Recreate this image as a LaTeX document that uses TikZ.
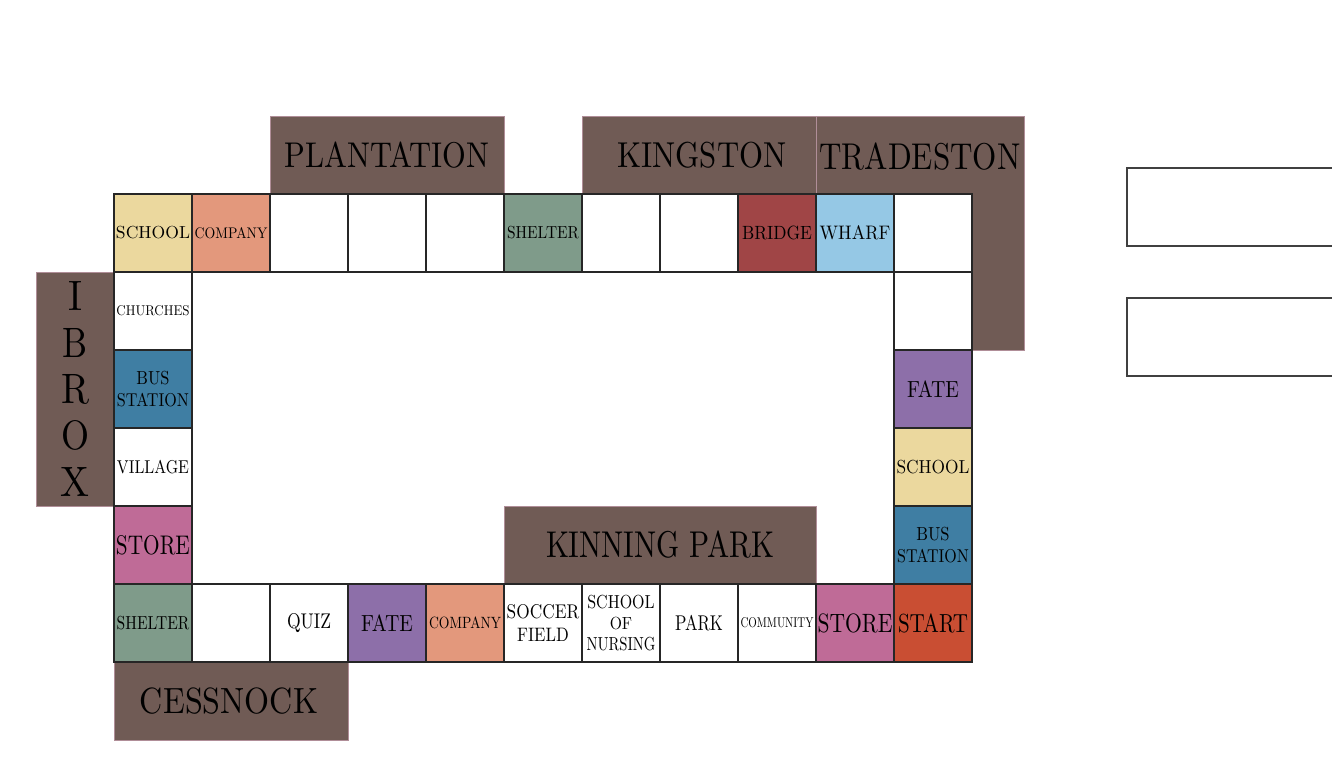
\documentclass[tikz,border=0pt]{standalone}
\usepackage{graphicx}
\definecolor{distf}{HTML}{705B55}
\definecolor{distb}{HTML}{B08E98}
\definecolor{cyellow}{HTML}{EBD89E}
\definecolor{ccompany}{HTML}{E3987C}
\definecolor{cshelter}{HTML}{7F9B8A}
\definecolor{cbridge}{HTML}{A04546}
\definecolor{cwharf}{HTML}{95C8E5}
\definecolor{cbus}{HTML}{3F7EA3}
\definecolor{cstore}{HTML}{BF6B97}
\definecolor{cfate}{HTML}{8D6FA9}
\definecolor{cstart}{HTML}{C94E33}
\newcommand\fitt[3]{\resizebox{#1pt}{#2pt}{#3}}
\newcommand\vlet[2]{\resizebox{#1pt}{29pt}{#2}}
\tikzset{
  cell/.style={draw=black!85, line width=1.3pt, minimum width=78pt, minimum height=78pt, inner sep=0pt, fill=white, align=center},
  district/.style={draw=distb, line width=1pt, fill=distf, inner sep=0pt},
  sidebox/.style={draw=black!75, line width=1.3pt},
  two/.style={font=\fontsize{10}{22.7}\selectfont},
  three/.style={font=\fontsize{10}{21.2}\selectfont}
}
\begin{document}
\begin{tikzpicture}[x=1pt,y=-1pt]
\useasboundingbox (0,0) rectangle (1332,772);
% district boxes
\node[district, minimum width=234pt, minimum height=78pt] (plantation) at (387,155) {\fitt{205}{25.6}{PLANTATION}};
\node[district, minimum width=234pt, minimum height=78pt] (kingston) at (699,155) {\hspace{6pt}\fitt{169}{25.4}{KINGSTON}};
\draw[district] (816,116) -- (1024,116) -- (1024,350) -- (972,350) -- (972,194) -- (816,194) -- cycle;
\node[inner sep=0pt] (tradestonlabel) at (920,157) {\fitt{201}{26.7}{TRADESTON}};
\node[district, minimum width=78pt, minimum height=234pt, align=center, font=\fontsize{10}{46.3}\selectfont] (ibrox) at (75,389)
  {\vlet{14}{I}\\\vlet{25}{B}\\\vlet{28}{R}\\\vlet{28}{O}\\\vlet{29}{X}};
\node[district, minimum width=312pt, minimum height=78pt] (kinning) at (660,545) {\fitt{228}{26.7}{KINNING PARK}};
\node[district, minimum width=234pt, minimum height=78pt] (cessnock) at (231,701) {\hspace{-4pt}\fitt{178}{25.7}{CESSNOCK}};
% top row
\node[cell, fill=cyellow] (t1) at (153,233) {\fitt{74}{12.3}{SCHOOL}};
\node[cell, fill=ccompany] (t2) at (231,233) {\fitt{72.7}{11}{COMPANY}};
\node[cell] (t3) at (309,233) {};
\node[cell] (t4) at (387,233) {};
\node[cell] (t5) at (465,233) {};
\node[cell, fill=cshelter] (t6) at (543,233) {\fitt{72}{12.3}{SHELTER}};
\node[cell] (t7) at (621,233) {};
\node[cell] (t8) at (699,233) {};
\node[cell, fill=cbridge] (t9) at (777,233) {\fitt{70}{13.5}{BRIDGE}};
\node[cell, fill=cwharf] (t10) at (855,233) {\fitt{70.6}{14}{WHARF}};
\node[cell] (t11) at (933,233) {};
% right column
\node[cell] (r1) at (933,311) {};
\node[cell, fill=cfate] (r2) at (933,389) {\fitt{52}{16.7}{FATE}};
\node[cell, fill=cyellow] (r3) at (933,467) {\fitt{73}{13.3}{SCHOOL}};
\node[cell, fill=cbus, two] (r4) at (933,545) {\fitt{33.3}{13.3}{BUS}\\\fitt{71.6}{13.3}{STATION}};
\node[cell, fill=cstart] (start) at (933,623) {\fitt{70}{18.7}{START}};
% bottom row
\node[cell, fill=cstore] (b1) at (855,623) {\fitt{75}{18.7}{STORE}};
\node[cell] (b2) at (777,623) {\fitt{73}{10}{COMMUNITY}};
\node[cell] (b3) at (699,623) {\fitt{48}{15.3}{PARK}};
\node[cell, three] (b4) at (621,623) {\fitt{67.4}{13.3}{SCHOOL}\\\fitt{22.4}{12.4}{OF}\\\fitt{69}{13.3}{NURSING}};
\node[cell, two] (b5) at (543,623) {\fitt{72.6}{14}{SOCCER}\\\fitt{51.6}{13.3}{FIELD}};
\node[cell, fill=ccompany] (b6) at (465,623) {\fitt{72}{11.7}{COMPANY}};
\node[cell, fill=cfate] (b7) at (387,623) {\fitt{52}{16.7}{FATE}};
\node[cell] (b8) at (309,623) {\fitt{44}{15}{QUIZ}};
\node[cell] (b9) at (231,623) {};
\node[cell, fill=cshelter] (b10) at (153,623) {\fitt{72.6}{13.3}{SHELTER}};
% left column
\node[cell, fill=cstore] (l1) at (153,545) {\fitt{74}{19}{STORE}};
\node[cell] (l2) at (153,467) {\fitt{72}{13.3}{VILLAGE}};
\node[cell, fill=cbus, two] (l3) at (153,389) {\fitt{33}{13.3}{BUS}\\\fitt{72}{13.3}{STATION}};
\node[cell] (l4) at (153,311) {\fitt{73}{10}{CHURCHES}};
% side boxes
\draw[sidebox] (1127,168) rectangle (1345,246);
\draw[sidebox] (1127,298) rectangle (1345,376);
\end{tikzpicture}
\end{document}
